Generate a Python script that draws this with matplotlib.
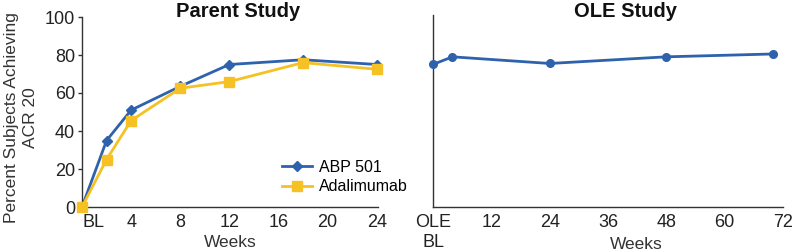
import matplotlib
matplotlib.use("Agg")
import matplotlib.pyplot as plt

plt.rcParams['font.family'] = ['Liberation Sans', 'DejaVu Sans']

# Parent study data
parent_weeks = [0, 2, 4, 8, 12, 18, 24]
abp501 = [0, 35, 51, 63.5, 75, 77.5, 75]
adalimumab = [0, 25, 45.5, 62.5, 66, 76, 72.5]
parent_ticks = [0, 4, 8, 12, 16, 20, 24]
parent_ticklabels = ['BL', '4', '8', '12', '16', '20', '24']

# OLE study data
ole_weeks = [0, 4, 24, 48, 70]
ole_abp501 = [75, 79, 75.5, 79, 80.5]
ole_ticks = [0, 12, 24, 36, 48, 60, 72]
ole_ticklabels = ['OLE\nBL', '12', '24', '36', '48', '60', '72']

blue = '#2E62AC'
yellow = '#F5C124'
axcol = '#333333'
txtcol = '#222222'

fig = plt.figure(figsize=(7.97, 2.52), dpi=100)
ax1 = fig.add_axes([82/797, 1-207/252, 296/797, 190/252])
ax2 = fig.add_axes([433/797, 1-207/252, 350/797, 192/252])

ax1.plot(parent_weeks, abp501, color=blue, lw=2, marker='D', ms=5.5, label='ABP 501',
         zorder=2, clip_on=False)
ax1.plot(parent_weeks, adalimumab, color=yellow, lw=2, marker='s', ms=7, label='Adalimumab',
         zorder=3, clip_on=False)
ax1.set_xlim(0, 24.1)
ax1.set_ylim(0, 100)
ax1.set_yticks([0, 20, 40, 60, 80, 100])
ax1.set_xticks(parent_ticks)
ax1.set_xticklabels(parent_ticklabels)
for lbl in ax1.get_xticklabels():
    if lbl.get_text() == 'BL':
        lbl.set_horizontalalignment('left')
ax1.tick_params(axis='x', length=0, pad=5, labelsize=13, colors=txtcol)
ax1.tick_params(axis='y', length=3, width=1, pad=2, labelsize=13, colors=axcol, labelcolor=txtcol)
ax1.set_xlabel('Weeks', fontsize=12.5, labelpad=3, color='#333333')
ax1.set_ylabel('Percent Subjects Achieving\nACR 20', fontsize=12.5, color='#333333',
               linespacing=1.35, ha='center', va='center')
ax1.yaxis.set_label_coords(-0.205, 0.47)
fig.text(238/797, 1-17/252, 'Parent Study', fontsize=14.5, fontweight='bold',
         ha='center', va='baseline', color='#111111')
leg = ax1.legend(loc='upper left', bbox_to_anchor=(0.675, 0.25), frameon=False,
                 borderpad=0, borderaxespad=0, handlelength=1.9, handletextpad=0.4,
                 labelspacing=0.3, fontsize=11.5)

ax2.plot(ole_weeks, ole_abp501, color=blue, lw=2, marker='o', ms=5.5, zorder=3, clip_on=False)
ax2.set_xlim(0, 71.7)
ax2.set_ylim(0, 101)
ax2.set_yticks([])
ax2.set_xticks(ole_ticks)
ax2.set_xticklabels(ole_ticklabels, linespacing=1.25)
ax2.tick_params(axis='x', length=0, pad=5, labelsize=13, colors=txtcol)
ax2.set_xlabel('Weeks', fontsize=12.5, color='#333333')
ax2.xaxis.set_label_coords(0.58, -0.155)
ax2.xaxis.label.set_verticalalignment('top')
fig.text(625/797, 1-17/252, 'OLE Study', fontsize=14.5, fontweight='bold',
         ha='center', va='baseline', color='#111111')

for ax in (ax1, ax2):
    ax.spines['top'].set_visible(False)
    ax.spines['right'].set_visible(False)
    ax.spines['left'].set_color(axcol)
    ax.spines['bottom'].set_color(axcol)
    ax.spines['left'].set_linewidth(1)
    ax.spines['bottom'].set_linewidth(1)

fig.savefig('out.png', dpi=100)
